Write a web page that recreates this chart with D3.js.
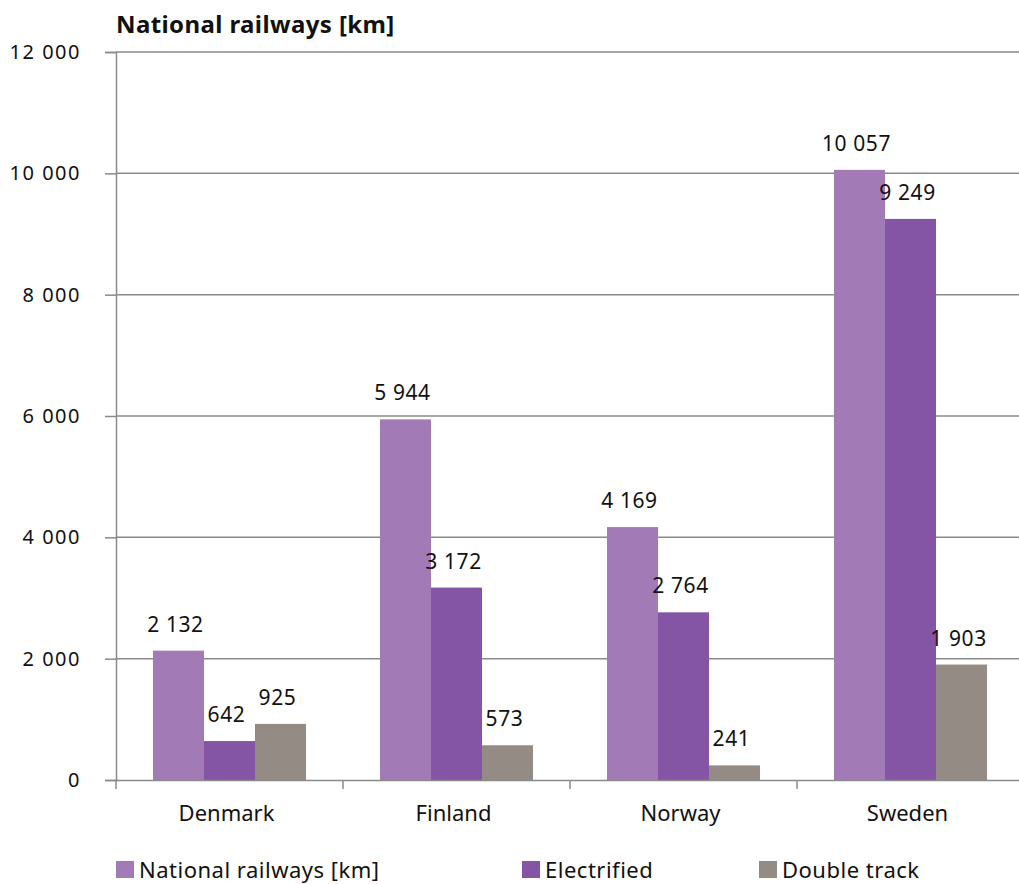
<!DOCTYPE html>
<html>
<head>
<meta charset="utf-8">
<script src="https://cdn.jsdelivr.net/npm/d3@7"></script>
<style>
  html, body { margin: 0; padding: 0; background: #fff; }
  svg { display: block; }
  text { font-family: "Noto Sans", "Open Sans", sans-serif; fill: #111; }
</style>
</head>
<body>
<svg id="chart" width="1019" height="884"></svg>
<script>
// Railway network length by country (km)
const countries = ["Denmark", "Finland", "Norway", "Sweden"];
const seriesNames = ["National railways [km]", "Electrified", "Double track"];
const nationalKm = [2132, 5944, 4169, 10057];
const electrifiedKm = [642, 3172, 2764, 9249];
const doubleTrackKm = [925, 573, 241, 1903];
const yTicks = [0, 2000, 4000, 6000, 8000, 10000, 12000];
const colors = ["#a17ab6", "#8455a5", "#958b85"];

const seriesValues = [nationalKm, electrifiedKm, doubleTrackKm];
const rows = countries.map((c, i) => ({
  country: c,
  values: seriesNames.map((s, j) => ({ series: s, idx: j, value: seriesValues[j][i] }))
}));

const svg = d3.select("#chart");
const margin = { left: 116, right: -5, top: 52, bottom: 104 };
const W = 1019, H = 884;

const x0 = d3.scaleBand().domain(countries)
  .range([margin.left, W - margin.right]).paddingInner(0).paddingOuter(0);
const x1 = d3.scaleBand().domain(seriesNames)
  .range([0, x0.bandwidth()]).paddingInner(0).paddingOuter(0.725);
const y = d3.scaleLinear().domain([0, 12000]).range([H - margin.bottom, margin.top]);

const fmt = v => d3.format(",")(v).replace(/,/g, " ");

// Title
svg.append("text")
  .attr("x", 116).attr("y", 33)
  .attr("font-size", 24).attr("font-weight", "bold")
  .attr("letter-spacing", 0.4)
  .text("National railways [km]");

// Horizontal gridlines
svg.append("g").selectAll("line").data(yTicks.filter(d => d > 0)).join("line")
  .attr("x1", margin.left).attr("x2", W)
  .attr("y1", d => y(d)).attr("y2", d => y(d))
  .attr("stroke", "#8a8a8a").attr("stroke-width", 1.5);

// Y axis
const yAxis = svg.append("g")
  .attr("transform", `translate(${margin.left},0)`)
  .call(d3.axisLeft(y).tickValues(yTicks).tickFormat(fmt).tickSize(11).tickPadding(24));
yAxis.select(".domain").attr("stroke", "#8a8a8a").attr("stroke-width", 1.5);
yAxis.selectAll(".tick line").attr("stroke", "#8a8a8a").attr("stroke-width", 1.5);
yAxis.selectAll(".tick text").attr("font-size", 20).attr("fill", "#111")
  .attr("letter-spacing", 1.5)
  .attr("font-family", "\"Noto Sans\", sans-serif");

// Bars
const groups = svg.append("g").selectAll("g").data(rows).join("g")
  .attr("transform", d => `translate(${x0(d.country)},0)`);

groups.selectAll("rect").data(d => d.values).join("rect")
  .attr("x", d => x1(d.series))
  .attr("width", x1.bandwidth())
  .attr("y", d => y(d.value))
  .attr("height", d => y(0) - y(d.value))
  .attr("fill", d => colors[d.idx]);

// Value labels
groups.selectAll("text.val").data(d => d.values).join("text")
  .attr("class", "val")
  .attr("x", d => x1(d.series) + x1.bandwidth() / 2 - 3)
  .attr("y", d => y(d.value) - 19)
  .attr("text-anchor", "middle")
  .attr("font-size", 21)
  .attr("letter-spacing", 0.6)
  .text(d => fmt(d.value));

// X axis
const xAxis = svg.append("g")
  .attr("transform", `translate(0,${y(0)})`)
  .call(d3.axisBottom(x0).tickSize(0).tickPadding(25));
xAxis.select(".domain").attr("stroke", "#8a8a8a").attr("stroke-width", 1.5);
xAxis.selectAll(".tick text").attr("font-size", 22).attr("fill", "#111")
  .attr("dx", -3)
  .attr("font-family", "\"Noto Sans\", sans-serif");

// Category separators below the baseline
svg.append("g").selectAll("line")
  .data(countries.map(c => x0(c)))
  .join("line")
  .attr("x1", d => d).attr("x2", d => d)
  .attr("y1", y(0)).attr("y2", y(0) + 9)
  .attr("stroke", "#8a8a8a").attr("stroke-width", 1.5);

// Legend
const legendX = [116, 522, 759];
const legend = svg.append("g").selectAll("g").data(seriesNames).join("g")
  .attr("transform", (d, i) => `translate(${legendX[i]},861)`);
legend.append("rect").attr("width", 18).attr("height", 17)
  .attr("fill", (d, i) => colors[i]);
legend.append("text").attr("x", 23).attr("y", 17)
  .attr("font-size", 22).attr("letter-spacing", 0.5).text(d => d);
</script>
</body>
</html>
